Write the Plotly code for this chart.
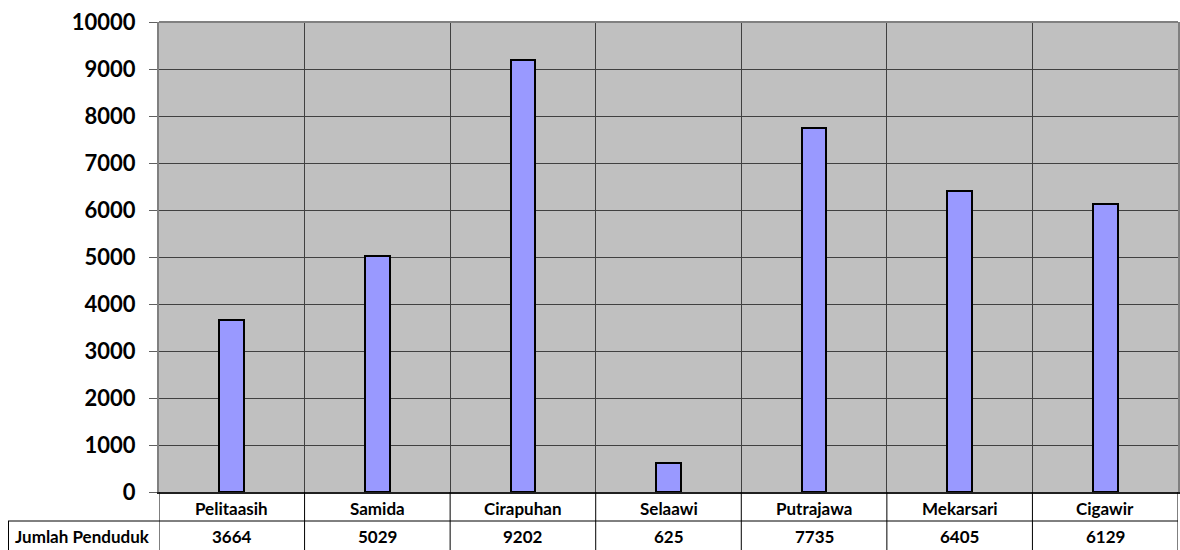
import plotly.graph_objects as go

categories = ["Pelitaasih", "Samida", "Cirapuhan", "Selaawi", "Putrajawa", "Mekarsari", "Cigawir"]
values = [3664, 5029, 9202, 625, 7735, 6405, 6129]
row_label = "Jumlah Penduduk"
y_ticks = list(range(0, 10001, 1000))
y_tick_text = [str(t) for t in y_ticks]

W, H = 1180, 550
ML, MR, MT, MB = 159, 2, 22, 58
PW = W - ML - MR
PH = H - MT - MB

def py(px):  # pixel y -> paper y
    return (H - MB - px) / PH

def pxx(px):  # pixel x -> paper x
    return (px - ML) / PW

FONT = "Lato"
xs = list(range(len(categories)))

fig = go.Figure()
fig.add_bar(x=xs, y=values, width=0.17,
            marker=dict(color="#9999FF", line=dict(color="black", width=2)))

bounds = [i - 0.5 for i in range(len(categories) + 1)]

fig.update_layout(
    width=W, height=H,
    margin=dict(l=ML, r=MR, t=MT, b=MB, autoexpand=False),
    paper_bgcolor="white", plot_bgcolor="#C0C0C0",
    showlegend=False,
    bargap=0,
    xaxis=dict(range=[-0.5, len(categories) - 0.5], tickvals=bounds, showticklabels=False,
               showgrid=True, gridcolor="#404040", gridwidth=1, ticks="",
               showline=True, linecolor="#202020", linewidth=2, zeroline=False),
    yaxis=dict(range=[0, 10000], tickvals=y_ticks, ticktext=y_tick_text,
               showgrid=True, gridcolor="#404040", gridwidth=1,
               ticks="outside", ticklen=8, tickcolor="#606060", tickwidth=1,
               showline=True, linecolor="#808080", linewidth=2, mirror=True,
               zeroline=False, ticklabelstandoff=9,
               tickfont=dict(family=FONT, size=22, color="black", weight="bold")),
)

shapes = []
# top border
shapes.append(dict(type="line", xref="paper", yref="paper", x0=0, x1=1, y0=1, y1=1,
                   line=dict(color="#808080", width=2)))
# table vertical lines
y_bottom = py(560)
for b in bounds:
    shapes.append(dict(type="line", xref="x", yref="paper", x0=b, x1=b, y0=0, y1=y_bottom,
                       line=dict(color="black", width=1)))
# row separator
shapes.append(dict(type="line", xref="paper", yref="paper", x0=pxx(8), x1=1, y0=py(521), y1=py(521),
                   line=dict(color="black", width=1)))
# left border of row label cell
shapes.append(dict(type="line", xref="paper", yref="paper", x0=pxx(8.5), x1=pxx(8.5), y0=py(521), y1=y_bottom,
                   line=dict(color="black", width=1)))
fig.update_layout(shapes=shapes)

ann = []
tfont = dict(family=FONT, size=17, color="black", weight="bold")
for i, (c, v) in enumerate(zip(categories, values)):
    ann.append(dict(x=i, y=py(508), xref="x", yref="paper", text=c, showarrow=False,
                    font=tfont, xanchor="center", yanchor="middle"))
    ann.append(dict(x=i, y=py(536), xref="x", yref="paper", text=str(v), showarrow=False,
                    font=tfont, xanchor="center", yanchor="middle"))
ann.append(dict(x=pxx(82), y=py(536), xref="paper", yref="paper", text=row_label, showarrow=False,
                font=tfont, xanchor="center", yanchor="middle"))
fig.update_layout(annotations=ann)

fig.write_html("out.html")
